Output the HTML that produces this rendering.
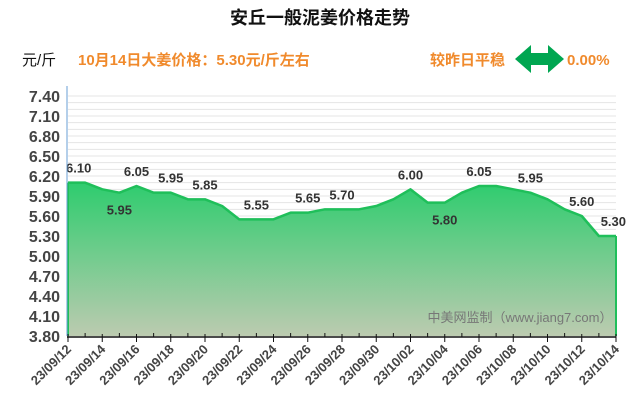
<!DOCTYPE html>
<html><head><meta charset="utf-8"><style>
body{margin:0;background:#fff;width:640px;height:410px;overflow:hidden;font-family:"Liberation Sans","Noto Sans CJK SC",sans-serif}
svg text{font-family:"Liberation Sans","Noto Sans CJK SC",sans-serif}
</style></head><body>
<svg id="c" width="640" height="410">
<defs><linearGradient id="g" x1="0" y1="0" x2="0" y2="1"><stop offset="0" stop-color="#2ecc6e"/><stop offset="1" stop-color="#bccbb0"/></linearGradient></defs>
<text x="320" y="24" text-anchor="middle" font-size="18" font-weight="bold" fill="#111">安丘一般泥姜价格走势</text>
<text x="22" y="65" font-size="15" fill="#111">元/斤</text>
<text x="78" y="65" font-size="15" font-weight="bold" fill="#f08a2c">10月14日大姜价格：5.30元/斤左右</text>
<text x="430" y="65" font-size="15" font-weight="bold" fill="#f08a2c">较昨日平稳</text>
<polygon points="515,59 531,45 531,53 548,53 548,45 564,59 548,73 548,65 531,65 531,73" fill="#00a651"/>
<text x="567" y="65" font-size="15" font-weight="bold" fill="#f08a2c">0.00%</text>
<g id="grid"></g><g id="plot"></g><g id="axes"></g>
<text x="520" y="322" text-anchor="middle" font-size="13" fill="#777">中美网监制（www.jiang7.com）</text>
</svg>
<script>
const dates=["23/09/12","23/09/13","23/09/14","23/09/15","23/09/16","23/09/17","23/09/18","23/09/19","23/09/20","23/09/21","23/09/22","23/09/23","23/09/24","23/09/25","23/09/26","23/09/27","23/09/28","23/09/29","23/09/30","23/10/01","23/10/02","23/10/03","23/10/04","23/10/05","23/10/06","23/10/07","23/10/08","23/10/09","23/10/10","23/10/11","23/10/12","23/10/13","23/10/14"];
const prices=[6.10,6.10,6.00,5.95,6.05,5.95,5.95,5.85,5.85,5.75,5.55,5.55,5.55,5.65,5.65,5.70,5.70,5.70,5.75,5.85,6.00,5.80,5.80,5.95,6.05,6.05,6.00,5.95,5.85,5.70,5.60,5.30,5.30];
const labelIdx=[0,3,4,6,8,11,14,16,20,22,24,27,30,32];
const belowIdx=[3,22];
const yTicks=["3.80","4.10","4.40","4.70","5.00","5.30","5.60","5.90","6.20","6.50","6.80","7.10","7.40"];
const X0=68,X1=616,Y0=336,Y1=96,YMIN=3.8,YMAX=7.4;
const xs=i=>X0+(X1-X0)*i/(dates.length-1);
const ys=v=>Y0-(v-YMIN)/(YMAX-YMIN)*(Y0-Y1);
const NS="http://www.w3.org/2000/svg";
function mk(tag,attrs,parent){const e=document.createElementNS(NS,tag);for(const k in attrs)e.setAttribute(k,attrs[k]);parent.appendChild(e);return e;}
const grid=document.getElementById('grid'),plot=document.getElementById('plot'),axes=document.getElementById('axes');
for(let v=YMIN+0.1;v<=YMAX+0.001;v+=0.1){const l=mk('line',{x1:X0,x2:X1,y1:ys(v),y2:ys(v),stroke:'#e4e4e4','stroke-width':1},grid);

}
let pts=prices.map((p,i)=>xs(i)+','+ys(p)).join(' ');
const area=mk('polygon',{points:X0+','+Y0+' '+pts+' '+X1+','+Y0,fill:'url(#g)'},plot);


const line=mk('polyline',{points:pts,fill:'none',stroke:'#1fbf5a','stroke-width':2.5,'stroke-linejoin':'round'},plot);


const edgeL=mk('line',{x1:X0,x2:X0,y1:Y0,y2:ys(prices[0]),stroke:'#1fbf5a','stroke-width':2},plot);


const edgeR=mk('line',{x1:X1,x2:X1,y1:Y0,y2:ys(prices[prices.length-1]),stroke:'#1fbf5a','stroke-width':2},plot);


labelIdx.forEach(i=>{const below=belowIdx.includes(i);
let anchor=i===0?'start':(i===prices.length-1?'end':'middle');
let x=i===0?X0-2:(i===prices.length-1?X1+10:xs(i));
const t=mk('text',{x:x,y:ys(prices[i])+(below?22:-10),'text-anchor':anchor,'font-size':13,'font-weight':'bold',fill:'#333'},plot);
t.textContent=prices[i].toFixed(2);

});
const ya=mk('line',{x1:X0-1,x2:X0-1,y1:Y1-10,y2:Y0,stroke:'#6a9fd4','stroke-width':1},axes);


const xa=mk('line',{x1:X0-1,x2:X1,y1:Y0+1,y2:Y0+1,stroke:'#111','stroke-width':1.5},axes);


yTicks.forEach(s=>{const t=mk('text',{x:X0-8,y:ys(parseFloat(s))+6,'text-anchor':'end','font-size':16,'font-weight':'bold',fill:'#444'},axes);
t.textContent=s;

});
dates.forEach((d,i)=>{const major=i%2===0;
const tk=mk('line',{x1:xs(i),x2:xs(i),y1:major?Y0-2:Y0-3,y2:major?Y0+6:Y0+1,stroke:'#111','stroke-width':1},axes);


if(major){const t=mk('text',{x:xs(i)+4,y:Y0+14,'text-anchor':'end','font-size':13,'font-weight':'bold',fill:'#444',transform:'rotate(-45 '+(xs(i)+4)+' '+(Y0+14)+')'},axes);
t.textContent=d;

}});
</script>
</body></html>
